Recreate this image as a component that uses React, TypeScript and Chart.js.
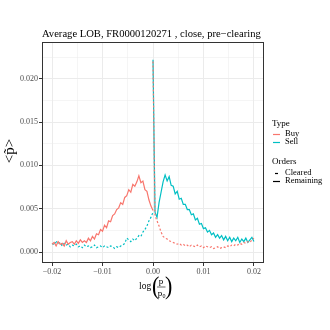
import { useEffect, useRef } from "react";
import { Chart, registerables } from "chart.js";
Chart.register(...registerables);

const TITLE = "Average LOB, FR0000120271 , close, pre\u2212clearing";
const STEP = 0.0004;

// left side: x from -0.02 to 0
const BUY_REMAINING = [
  0.0009, 0.0011, 0.0007, 0.0012, 0.0009, 0.0010, 0.0007, 0.0013, 0.0009, 0.0011,
  0.0012, 0.0009, 0.0013, 0.0010, 0.0014, 0.0011, 0.0013, 0.0011, 0.0016, 0.0013,
  0.0018, 0.0015, 0.0021, 0.0020, 0.0026, 0.0024, 0.0031, 0.0028, 0.0036, 0.0035,
  0.0042, 0.0044, 0.0049, 0.0051, 0.0057, 0.0055, 0.0063, 0.0065, 0.0072, 0.0069,
  0.0078, 0.0076, 0.0081, 0.0088, 0.0080, 0.0082, 0.0072, 0.0070, 0.0060, 0.0053,
  0.0048,
];
const SELL_CLEARED = [
  0.0010, 0.0008, 0.0013, 0.0009, 0.0011, 0.0007, 0.0010, 0.0008, 0.0009, 0.0006,
  0.0008, 0.0007, 0.0009, 0.0006, 0.0007, 0.0005, 0.0008, 0.0006, 0.0007, 0.0005,
  0.0006, 0.0008, 0.0005, 0.0006, 0.0007, 0.0005, 0.0007, 0.0006, 0.0005, 0.0007,
  0.0006, 0.0004, 0.0006, 0.0005, 0.0007, 0.0008, 0.0010, 0.0016, 0.0014, 0.0012,
  0.0015, 0.0013, 0.0016, 0.0019, 0.0018, 0.0023, 0.0026, 0.0030, 0.0036, 0.0040,
  0.0046,
];
// right side: x from 0 to 0.02
const SELL_REMAINING = [
  0.0222, 0.0046, 0.0040, 0.0057, 0.0069, 0.0081, 0.0089, 0.0082, 0.0087, 0.0077,
  0.0076, 0.0067, 0.0070, 0.0061, 0.0062, 0.0055, 0.0055, 0.0049, 0.0049, 0.0043,
  0.0044, 0.0037, 0.0039, 0.0032, 0.0033, 0.0027, 0.0028, 0.0023, 0.0025, 0.0020,
  0.0022, 0.0017, 0.0020, 0.0016, 0.0019, 0.0014, 0.0018, 0.0013, 0.0017, 0.0012,
  0.0016, 0.0013, 0.0017, 0.0011, 0.0015, 0.0012, 0.0016, 0.0011, 0.0014, 0.0017,
  0.0012,
];
const BUY_CLEARED = [
  0.0220, 0.0042, 0.0036, 0.0030, 0.0023, 0.0018, 0.0016, 0.0015, 0.0013, 0.0012,
  0.0011, 0.0010, 0.0009, 0.0010, 0.0008, 0.0009, 0.0007, 0.0008, 0.0006, 0.0008,
  0.0007, 0.0006, 0.0008, 0.0006, 0.0007, 0.0005, 0.0007, 0.0006, 0.0005, 0.0006,
  0.0004, 0.0005, 0.0006, 0.0004, 0.0005, 0.0006, 0.0005, 0.0007, 0.0006, 0.0008,
  0.0007, 0.0009, 0.0008, 0.0010, 0.0009, 0.0011, 0.0010, 0.0012, 0.0011, 0.0014,
  0.0016,
];

const X_MAJOR = [-0.02, -0.01, 0, 0.01, 0.02];
const X_LABELS = ["\u22120.02", "\u22120.01", "0.00", "0.01", "0.02"];
const X_MINOR = [-0.015, -0.005, 0.005, 0.015];
const Y_MAJOR = [0, 0.005, 0.01, 0.015, 0.02];
const Y_LABELS = ["0.000", "0.005", "0.010", "0.015", "0.020"];
const Y_MINOR = [0.0025, 0.0075, 0.0125, 0.0175, 0.0225];

const BUY_COLOR = "#F8766D";
const SELL_COLOR = "#00BFC4";
const FONT = '"Liberation Serif", serif';

const leftX = (i: number) => -0.02 + i * STEP;
const rightX = (i: number) => i * STEP;

const deco = {
  id: "deco",
  afterDraw(chart: any) {
    const { ctx, chartArea: a } = chart;
    ctx.save();
    // panel border
    ctx.strokeStyle = "#333333";
    ctx.lineWidth = 1;
    ctx.strokeRect(a.left + 0.5, a.top + 0.5, a.right - a.left - 1, a.bottom - a.top - 1);
    // title
    ctx.fillStyle = "#000";
    ctx.font = `10.6px ${FONT}`;
    ctx.textAlign = "left";
    ctx.textBaseline = "alphabetic";
    ctx.fillText(TITLE, a.left, 37);
    // y label
    ctx.save();
    ctx.translate(14, 151);
    ctx.rotate(-Math.PI / 2);
    ctx.font = `15px ${FONT}`;
    ctx.textAlign = "center";
    ctx.fillText("<p\u0303>", 0, 0);
    ctx.restore();
    // x label: log(p / p0)
    ctx.font = `9.5px ${FONT}`;
    ctx.textAlign = "left";
    ctx.fillText("log", 139, 289);
    ctx.save();
    ctx.font = `22px ${FONT}`;
    ctx.textBaseline = "middle";
    ctx.translate(0, 287);
    ctx.scale(1, 1.15);
    ctx.fillText("(", 152, 0);
    ctx.fillText(")", 165, 0);
    ctx.restore();
    ctx.font = `9px ${FONT}`;
    ctx.textAlign = "center";
    ctx.fillText("p", 161, 284);
    ctx.strokeStyle = "#000";
    ctx.lineWidth = 0.6;
    ctx.beginPath();
    ctx.moveTo(157, 287);
    ctx.lineTo(165.5, 287);
    ctx.stroke();
    ctx.fillText("p", 160, 296);
    ctx.font = `6px ${FONT}`;
    ctx.fillText("0", 164, 298);
    // legend
    ctx.textAlign = "left";
    ctx.textBaseline = "middle";
    ctx.font = `9px ${FONT}`;
    ctx.fillText("Type", 272, 124);
    ctx.fillText("Orders", 272, 162);
    ctx.font = `8.5px ${FONT}`;
    ctx.fillText("Buy", 285, 134);
    ctx.fillText("Sell", 285, 142);
    ctx.fillText("Cleared", 285, 173);
    ctx.fillText("Remaining", 285, 181);
    ctx.lineWidth = 1.2;
    ctx.strokeStyle = BUY_COLOR;
    ctx.beginPath(); ctx.moveTo(273, 134.5); ctx.lineTo(280, 134.5); ctx.stroke();
    ctx.strokeStyle = SELL_COLOR;
    ctx.beginPath(); ctx.moveTo(273, 142.5); ctx.lineTo(280, 142.5); ctx.stroke();
    ctx.strokeStyle = "#000";
    ctx.beginPath(); ctx.moveTo(275, 173.5); ctx.lineTo(278, 173.5); ctx.stroke();
    ctx.beginPath(); ctx.moveTo(273, 181.5); ctx.lineTo(280, 181.5); ctx.stroke();
    ctx.restore();
  },
};

export default function App() {
  const ref = useRef<HTMLCanvasElement | null>(null);
  useEffect(() => {
    if (!ref.current) return;
    const line = (label: string, data: number[], xf: (i: number) => number, color: string, dashed: boolean) => ({
      label,
      data: data.map((y, i) => ({ x: xf(i), y })),
      borderColor: color,
      backgroundColor: color,
      borderWidth: 1.2,
      borderDash: dashed ? [2, 2] : [],
      pointRadius: 0,
      tension: 0,
      fill: false,
    });
    const isMajor = (arr: number[], v: number) => arr.some((m) => Math.abs(m - v) < 1e-9);
    const chart = new Chart(ref.current, {
      type: "line",
      data: {
        datasets: [
          line("Buy Remaining", BUY_REMAINING, leftX, BUY_COLOR, false),
          line("Buy Cleared", BUY_CLEARED, rightX, BUY_COLOR, true),
          line("Sell Cleared", SELL_CLEARED, leftX, SELL_COLOR, true),
          line("Sell Remaining", SELL_REMAINING, rightX, SELL_COLOR, false),
        ],
      },
      options: {
        animation: false,
        responsive: false,
        layout: { padding: { top: 42, right: 66, left: 0, bottom: 0 } },
        plugins: { legend: { display: false }, title: { display: false }, tooltip: { enabled: false } },
        scales: {
          x: {
            type: "linear",
            min: -0.022,
            max: 0.022,
            afterBuildTicks: (s: any) => {
              s.ticks = [...X_MAJOR, ...X_MINOR].sort((p, q) => p - q).map((v) => ({ value: v }));
            },
            afterFit: (s: any) => {
              s.height = 67;
            },
            border: { display: false },
            grid: {
              color: "#EBEBEB",
              lineWidth: (c: any) => (isMajor(X_MAJOR, c.tick?.value) ? 1 : 0.5),
              tickColor: (c: any) => (isMajor(X_MAJOR, c.tick?.value) ? "#333333" : "rgba(0,0,0,0)"),
              tickLength: 3,
              tickWidth: 1,
            },
            ticks: {
              autoSkip: false,
              maxRotation: 0,
              padding: 1,
              color: "#4D4D4D",
              font: { family: FONT, size: 8 },
              callback: (v: any) => {
                const i = X_MAJOR.findIndex((m) => Math.abs(m - v) < 1e-9);
                return i >= 0 ? X_LABELS[i] : "";
              },
            },
          },
          y: {
            type: "linear",
            min: -0.00127,
            max: 0.02425,
            afterBuildTicks: (s: any) => {
              s.ticks = [...Y_MAJOR, ...Y_MINOR].sort((p, q) => p - q).map((v) => ({ value: v }));
            },
            afterFit: (s: any) => {
              s.width = 42;
            },
            border: { display: false },
            grid: {
              color: "#EBEBEB",
              lineWidth: (c: any) => (isMajor(Y_MAJOR, c.tick?.value) ? 1 : 0.5),
              tickColor: (c: any) => (isMajor(Y_MAJOR, c.tick?.value) ? "#333333" : "rgba(0,0,0,0)"),
              tickLength: 3,
              tickWidth: 1,
            },
            ticks: {
              autoSkip: false,
              padding: 1,
              color: "#4D4D4D",
              font: { family: FONT, size: 8 },
              callback: (v: any) => {
                const i = Y_MAJOR.findIndex((m) => Math.abs(m - v) < 1e-9);
                return i >= 0 ? Y_LABELS[i] : "";
              },
            },
          },
        },
      },
      plugins: [deco],
    } as any);
    return () => chart.destroy();
  }, []);
  return (
    <div style={{ position: "fixed", left: 0, top: 0, width: 330, height: 330, background: "#fff" }}>
      <canvas ref={ref} width={330} height={330} />
    </div>
  );
}
